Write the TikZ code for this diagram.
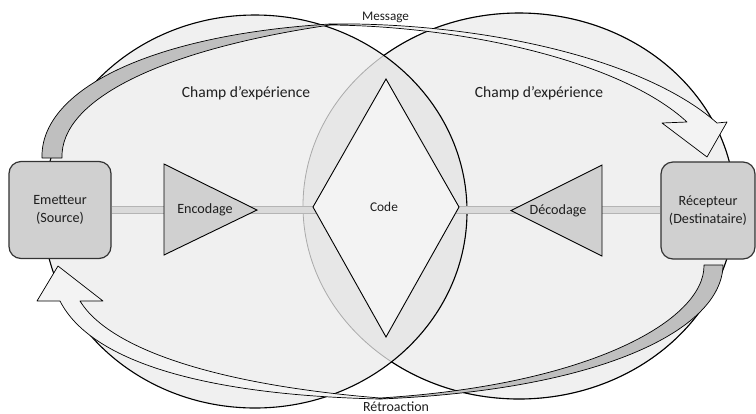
\documentclass[tikz,border=0pt]{standalone}
\usepackage{fontspec}
\setmainfont{Carlito}
\usepackage{tikz}

\definecolor{fieldgray}{HTML}{F0F0F0}
\definecolor{lensgray}{HTML}{E7E7E7}
\definecolor{rimgray}{HTML}{AAAAAA}
\definecolor{ribbongray}{HTML}{BFBFBF}
\definecolor{ribbonlight}{HTML}{F3F3F3}
\definecolor{boxgray}{HTML}{D0D0D0}
\definecolor{bandgray}{HTML}{DADADA}
\definecolor{bandedge}{HTML}{B4B4B4}
\definecolor{codefill}{HTML}{F3F3F3}
\definecolor{inkgray}{HTML}{1E1E1E}

\begin{document}
\begin{tikzpicture}[x=1bp, y=-1bp, text=inkgray,
    rim/.style={draw=black, line width=1.1bp},
    ribbon/.style={draw=black, line width=0.7bp, line join=round},
    station/.style={draw=black!80, line width=1.2bp, fill=boxgray, rounded corners=12bp,
        minimum height=97bp, align=center, font=\fontsize{14.2}{18}\selectfont},
    wedge/.style={draw=black, line width=0.9bp, fill=boxgray},
    channel/.style={draw=bandedge, line width=0.7bp, double=bandgray, double distance=6.6bp},
    small/.style={font=\fontsize{14.2}{17}\selectfont},
    big/.style={font=\fontsize{15.6}{18}\selectfont}]

    \useasboundingbox (0,0) rectangle (756,413);

    % Champs d'experience
    \fill[fieldgray] (519,206) ellipse [x radius=216bp, y radius=193bp];
    \fill[fieldgray] (255,211.5) ellipse [x radius=212bp, y radius=196.5bp];
    \begin{scope}
        \clip (255,211.5) ellipse [x radius=212bp, y radius=196.5bp];
        \fill[lensgray] (519,206) ellipse [x radius=216bp, y radius=193bp];
    \end{scope}
    \draw[rim, draw=rimgray, line width=0.8bp] (519,206) ellipse [x radius=216bp, y radius=193bp];
    \begin{scope}[even odd rule]
        \clip (-20,-20) rectangle (776,433) (255,211.5) ellipse [x radius=212bp, y radius=196.5bp];
        \draw[rim] (519,206) ellipse [x radius=216bp, y radius=193bp];
    \end{scope}
    \draw[rim] (255,211.5) ellipse [x radius=212bp, y radius=196.5bp];

    % Message
    \filldraw[ribbon, fill=ribbongray] (42,158) .. controls (40,90) and (150,35) .. (330,24)
        -- (330,25) .. controls (160,50) and (60,100) .. (62,158) -- cycle;
    \filldraw[ribbon, fill=ribbonlight] (330,24) .. controls (470,22) and (640,55) .. (717,123)
        -- (727,122) -- (707,157) -- (662,123) -- (687,122)
        .. controls (620,60) and (460,26) .. (330,25) -- cycle;

    % Retroaction
    \filldraw[ribbon, fill=ribbongray] (723,265) .. controls (722,330) and (600,390) .. (380,399)
        -- (380,398) .. controls (590,385) and (705,320) .. (704,265) -- cycle;
    \filldraw[ribbon, fill=ribbonlight] (380,399) .. controls (200,395) and (90,360) .. (60,301)
        -- (37,301) -- (58,266) -- (103,301) -- (80,301)
        .. controls (110,350) and (220,385) .. (380,398) -- cycle;

    % Emetteur et recepteur
    \node[station, minimum width=102bp] (emetteur) at (60,210) {Emetteur\\(Source)};
    \node[station, minimum width=94bp] (recepteur) at (708,210.5) {Récepteur\\(Destinataire)};

    % Canal
    \draw[channel] (emetteur.east) -- (recepteur.west |- emetteur.east);

    % Encodage / decodage
    \draw[wedge] (164,164) -- (257,210) -- (164,255) -- cycle;
    \draw[wedge] (602,165) -- (511,210.5) -- (602,256) -- cycle;
    \node[small] (encodage) at (205,210) {Encodage};
    \node[small] (decodage) at (558,211) {Décodage};

    % Code
    \draw[wedge, fill=codefill] (386,79) -- (459,207) -- (386,337) -- (313,207) -- cycle;
    \node[font=\fontsize{13.4}{16}\selectfont] (code) at (384,207) {Code};

    % Labels
    \node[big, anchor=base] (champA) at (246,97) {Champ d’expérience};
    \node[big, anchor=base] (champB) at (539,97) {Champ d’expérience};
    \node[font=\fontsize{13.2}{16}\selectfont, anchor=base] (message) at (385.5,20.5) {Message};
    \node[font=\fontsize{14}{16}\selectfont, anchor=base] (retroaction) at (396,411) {Rétroaction};
\end{tikzpicture}
\end{document}
